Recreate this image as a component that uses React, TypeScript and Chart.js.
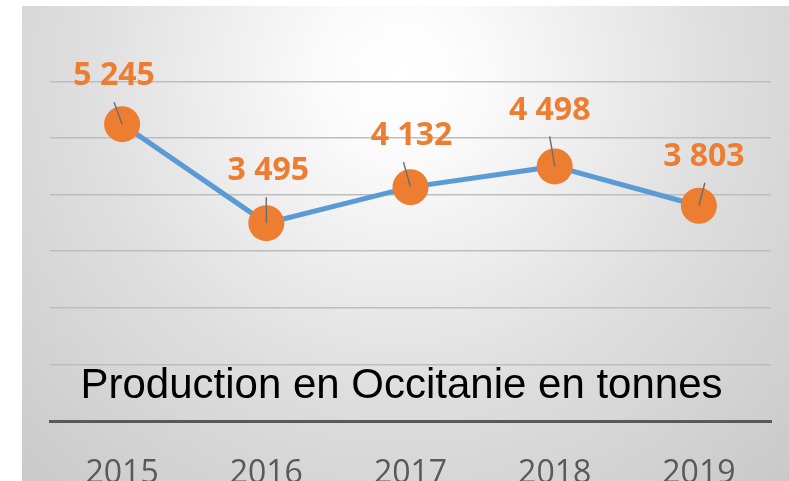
import React, { useEffect, useRef } from "react";
import { Chart, registerables } from "chart.js";

Chart.register(...registerables);

// ---- data ----
const years: string[] = ["2015", "2016", "2017", "2018", "2019"];
const production: number[] = [5245, 3495, 4132, 4498, 3803];
const yMin = 0;
const yMax = 6000;
const yStep = 1000;
const chartTitle = "Production en Occitanie en tonnes";

// ---- label layout (relative to each point) ----
const labelDx: number[] = [-8, 2, 1, -5, 5];
const labelDy: number[] = [-48, -52, -51, -56, -49];
const leaderDx: number[] = [0, -2, -8, 0, 1];

const fmt = (v: number) => String(v).replace(/\B(?=(\d{3})+(?!\d))/g, " ");

const bgPlugin = {
  id: "bgGradient",
  beforeDraw(chart: any) {
    const { ctx, width, height } = chart;
    const g = ctx.createRadialGradient(380, 70, 0, 380, 70, 640);
    g.addColorStop(0, "#FFFFFF");
    g.addColorStop(0.12, "#FBFBFB");
    g.addColorStop(0.5, "#DEDEDE");
    g.addColorStop(1, "#C2C2C2");
    ctx.save();
    ctx.fillStyle = g;
    ctx.fillRect(0, 0, width, height);
    ctx.restore();
  },
};

const titlePlugin = {
  id: "innerTitle",
  beforeDatasetsDraw(chart: any) {
    const { ctx, chartArea } = chart;
    ctx.save();
    ctx.font = '42px "Liberation Sans", Arial, sans-serif';
    ctx.fillStyle = "#000000";
    ctx.textAlign = "center";
    ctx.textBaseline = "alphabetic";
    ctx.fillText(chartTitle, (chartArea.left + chartArea.right) / 2 - 9, chartArea.bottom - 23.5);
    ctx.restore();
  },
};

const labelPlugin = {
  id: "valueLabels",
  afterDatasetsDraw(chart: any) {
    const { ctx } = chart;
    const meta = chart.getDatasetMeta(0);
    ctx.save();
    meta.data.forEach((pt: any, i: number) => {
      const lx = pt.x + labelDx[i];
      const ly = pt.y + labelDy[i];
      ctx.beginPath();
      ctx.strokeStyle = "#6F6F6F";
      ctx.lineWidth = 1.5;
      ctx.moveTo(lx + leaderDx[i], ly + 26);
      ctx.lineTo(pt.x, pt.y);
      ctx.stroke();
      ctx.font = 'bold 32px "Open Sans", sans-serif';
      ctx.fillStyle = "#ED7D31";
      ctx.textAlign = "center";
      ctx.textBaseline = "middle";
      ctx.fillText(fmt(production[i]), lx, ly);
    });
    ctx.restore();
  },
};

export default function App() {
  const ref = useRef<HTMLCanvasElement | null>(null);

  useEffect(() => {
    if (!ref.current) return;
    const chart = new Chart(ref.current, {
      type: "line",
      data: {
        labels: years,
        datasets: [
          {
            data: production,
            borderColor: "#5B9BD5",
            borderWidth: 5,
            backgroundColor: "#ED7D31",
            pointBackgroundColor: "#ED7D31",
            pointBorderColor: "#ED7D31",
            pointBorderWidth: 0,
            pointRadius: 18,
            pointHoverRadius: 18,
            tension: 0,
            fill: false,
          },
        ],
      },
      options: {
        responsive: false,
        maintainAspectRatio: false,
        animation: false,
        events: [],
        layout: { padding: { left: 28, right: 13.5, top: 75.4, bottom: 19.6 } },
        plugins: {
          legend: { display: false },
          tooltip: { enabled: false },
          title: { display: false },
        },
        scales: {
          x: {
            offset: true,
            grid: { display: false, drawTicks: false },
            border: { display: true, color: "#595959", width: 3 },
            ticks: {
              color: "#595959",
              padding: 34,
              font: { family: '"Open Sans", sans-serif', size: 32, lineHeight: 1.2 },
              maxRotation: 0,
            },
          },
          y: {
            min: yMin,
            max: yMax,
            ticks: { display: false, stepSize: yStep },
            grid: {
              color: (c: any) => (c.tick && c.tick.value === 0 ? "rgba(0,0,0,0)" : "#BDBDBD"),
              lineWidth: 1.5,
              drawTicks: false,
            },
            border: { display: false },
          },
        },
      },
      plugins: [bgPlugin, titlePlugin, labelPlugin],
    });
    return () => chart.destroy();
  }, []);

  return (
    <div style={{ position: "absolute", left: 0, top: 0, width: 789, height: 481, background: "#fff", overflow: "hidden" }}>
      <div style={{ position: "absolute", left: 22, top: 6, width: 767, height: 475, overflow: "hidden" }}>
        <canvas ref={ref} width={767} height={541} style={{ display: "block", width: 767, height: 541 }} />
      </div>
    </div>
  );
}
